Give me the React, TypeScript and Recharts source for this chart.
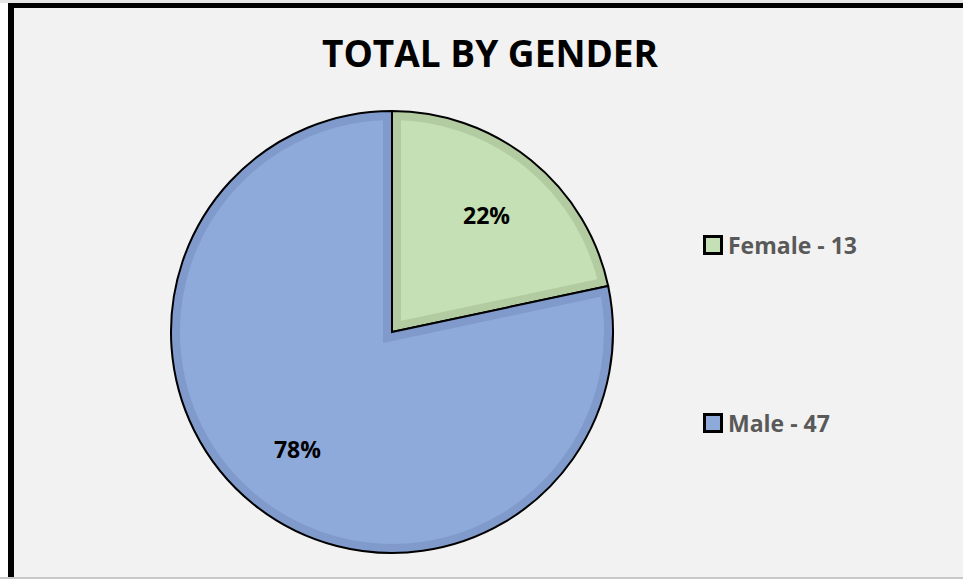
import { PieChart, Pie, Sector, Legend } from 'recharts';

// 데이터
const categories = ['Female', 'Male'];
const counts = [13, 47];

const fillColors = ['#c5e0b4', '#8eaadb'];
const bevelColors = ['#b2cba0', '#7f9acb'];

const data = categories.map((name, i) => ({ name, value: counts[i] }));

const FONT = '"Open Sans", "Noto Sans", sans-serif';
const RADIAN = Math.PI / 180;

const BevelSector = (props: any) => {
  const idx = categories.indexOf(props.payload?.name ?? props.name);
  const geom = {
    cx: props.cx,
    cy: props.cy,
    innerRadius: props.innerRadius,
    outerRadius: props.outerRadius,
    startAngle: props.startAngle,
    endAngle: props.endAngle,
  };
  const clipId = `bevel-clip-${idx}`;
  return (
    <g>
      <defs>
        <clipPath id={clipId}>
          <Sector {...geom} />
        </clipPath>
      </defs>
      <Sector {...geom} fill={fillColors[idx]} stroke="none" />
      <Sector {...geom} fill="none" stroke={bevelColors[idx]} strokeWidth={18} clipPath={`url(#${clipId})`} />
      <Sector {...geom} fill="none" stroke="#000" strokeWidth={2} />
    </g>
  );
};

const renderLabel = ({ cx, cy, midAngle, outerRadius, percent }: any) => {
  const r = outerRadius * 0.68;
  const x = cx + r * Math.cos(-midAngle * RADIAN);
  const y = cy + r * Math.sin(-midAngle * RADIAN);
  return (
    <text x={x} y={y} textAnchor="middle" dominantBaseline="central" fill="#000"
      style={{ fontFamily: FONT, fontWeight: 700, fontSize: 23 }}>
      {`${Math.round((percent || 0) * 100)}%`}
    </text>
  );
};

const LegendContent = () => (
  <div style={{ fontFamily: FONT, fontWeight: 700, fontSize: 23, color: '#595959' }}>
    {data.map((d, i) => (
      <div key={d.name} style={{ display: 'flex', alignItems: 'center', height: 24, marginBottom: i === 0 ? 154 : 0 }}>
        <span style={{ display: 'inline-block', width: 14, height: 14, background: fillColors[i], border: '3px solid #000', marginRight: 5 }} />
        <span>{`${d.name} - ${d.value}`}</span>
      </div>
    ))}
  </div>
);

export default function App() {
  return (
    <div style={{ position: 'absolute', left: 0, top: 0, width: 963, height: 579, background: '#fff', overflow: 'hidden' }}>
      <div style={{ position: 'absolute', left: 0, top: 0, width: 963, height: 3, background: '#e6e6e6' }} />
      <div style={{
        position: 'absolute', left: 8, top: 3, width: 963 - 8 - 6, height: 577 - 3 - 5,
        background: '#f2f2f2', borderTop: '5px solid #000', borderLeft: '6px solid #000',
      }} />
      <div style={{ position: 'absolute', left: 0, top: 577, width: 963, height: 2, background: '#c8c8c8' }} />
      <div style={{
        position: 'absolute', left: 0, top: 33, width: 980, textAlign: 'center',
        fontFamily: FONT, fontWeight: 700, fontSize: 37, color: '#000', lineHeight: '40px',
      }}>
        TOTAL BY GENDER
      </div>
      <div style={{ position: 'absolute', left: 0, top: 0 }}>
        <PieChart width={963} height={579} margin={{ top: 0, right: 0, bottom: 0, left: 0 }}>
          <Pie
            data={data}
            dataKey="value"
            nameKey="name"
            cx={392}
            cy={332}
            outerRadius={221}
            startAngle={90}
            endAngle={-270}
            shape={BevelSector}
            label={renderLabel}
            labelLine={false}
            isAnimationActive={false}
          />
          <Legend
            layout="vertical"
            content={<LegendContent />}
            wrapperStyle={{ position: 'absolute', left: 703, top: 233, width: 240 }}
          />
        </PieChart>
      </div>
    </div>
  );
}
